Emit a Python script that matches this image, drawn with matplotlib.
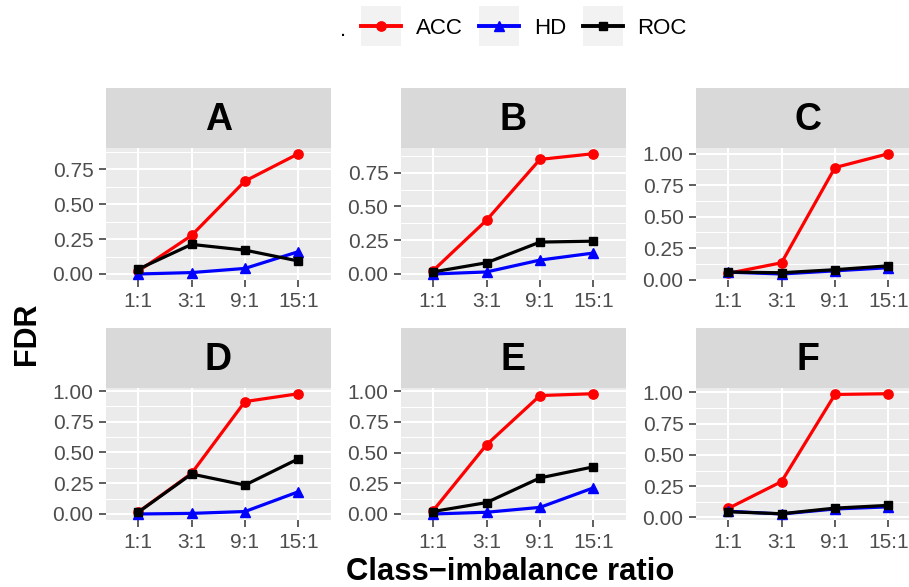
import matplotlib
matplotlib.use("Agg")
import matplotlib.pyplot as plt
from matplotlib.lines import Line2D
from matplotlib.patches import Rectangle
from matplotlib.legend_handler import HandlerLine2D
import numpy as np

plt.rcParams['font.family'] = ['Liberation Sans', 'DejaVu Sans']

ratios = ["1:1", "3:1", "9:1", "15:1"]
panels = ["A", "B", "C", "D", "E", "F"]
acc = {
    "A": [0.02, 0.276, 0.666, 0.862],
    "B": [0.025, 0.398, 0.848, 0.89],
    "C": [0.05, 0.134, 0.89, 1.00],
    "D": [0.015, 0.33, 0.914, 0.978],
    "E": [0.027, 0.564, 0.965, 0.98],
    "F": [0.072, 0.287, 0.984, 0.99],
}
hd = {
    "A": [0.0, 0.01, 0.04, 0.16],
    "B": [0.0, 0.015, 0.103, 0.155],
    "C": [0.06, 0.045, 0.07, 0.095],
    "D": [0.0, 0.005, 0.02, 0.181],
    "E": [0.0, 0.014, 0.054, 0.213],
    "F": [0.05, 0.028, 0.068, 0.085],
}
roc = {
    "A": [0.034, 0.212, 0.171, 0.093],
    "B": [0.015, 0.083, 0.236, 0.243],
    "C": [0.06, 0.055, 0.079, 0.11],
    "D": [0.013, 0.325, 0.235, 0.449],
    "E": [0.02, 0.093, 0.294, 0.384],
    "F": [0.046, 0.03, 0.075, 0.097],
}
series = [("ACC", acc, "#FF0000", "o", 6.7),
          ("HD", hd, "#0000FF", "^", 7.5),
          ("ROC", roc, "#000000", "s", 6.3)]

W, H = 909, 587
fig = plt.figure(figsize=(W / 100, H / 100), dpi=100)

def fx(px):
    return px / W

def fy(py):
    return 1 - py / H

col_left = [106, 401, 696]
pw = 224.5
strip_top = [88.3, 328.3]
strip_bot = [147.7, 387.7]
pan_bot = [280.0, 520.0]

for i, p in enumerate(panels):
    r, c = divmod(i, 3)
    ax = fig.add_axes([fx(col_left[c]), fy(pan_bot[r]), pw / W, (pan_bot[r] - strip_bot[r]) / H])
    ax.set_facecolor("#EBEBEB")
    for name, d, col, mk, ms in series:
        ax.plot(range(len(ratios)), d[p], color=col, lw=2.3, marker=mk, ms=ms, zorder=3,
                clip_on=False, solid_capstyle='butt')
    vals = np.concatenate([acc[p], hd[p], roc[p]])
    lo, hi = vals.min(), vals.max()
    ex = 0.05 * (hi - lo)
    ax.set_ylim(lo - ex, hi + ex)
    ax.set_xlim(-0.6, len(ratios) - 1 + 0.6)
    ax.set_xticks(range(len(ratios)))
    ax.set_xticklabels(ratios)
    yt = np.arange(0, hi + ex + 1e-9, 0.25)
    ax.set_yticks(yt)
    ax.set_yticklabels([f"{v:.2f}" for v in yt])
    ax.set_yticks(np.arange(0.125, hi + ex, 0.25), minor=True)
    ax.grid(True, which='major', color='white', lw=1.5)
    ax.grid(True, which='minor', axis='y', color='white', lw=0.75)
    ax.set_axisbelow(True)
    for s in ax.spines.values():
        s.set_visible(False)
    ax.tick_params(axis='both', which='major', length=5, width=1.1, color='#333333',
                   labelcolor='#4D4D4D', labelsize=15, pad=4)
    ax.tick_params(axis='y', which='minor', length=0)
    # strip
    sa = fig.add_axes([fx(col_left[c]), fy(strip_bot[r]), pw / W, (strip_bot[r] - strip_top[r]) / H])
    sa.set_facecolor("#D9D9D9")
    sa.set_xticks([])
    sa.set_yticks([])
    for s in sa.spines.values():
        s.set_visible(False)
    sa.text(0.5, 0.47, p, transform=sa.transAxes, ha='center', va='center',
            fontsize=27, fontweight='bold', color='black')

fig.text(fx(27), fy(334), "FDR", rotation=90, ha='center', va='center',
         fontsize=22, fontweight='bold')
fig.text(fx(510), fy(580), "Class\u2212imbalance ratio", ha='center', va='baseline',
         fontsize=22.3, fontweight='bold')


class KeyHandler(HandlerLine2D):
    def create_artists(self, legend, orig_handle, xdescent, ydescent, width, height, fontsize, trans):
        arts = super().create_artists(legend, orig_handle, xdescent, ydescent, width, height, fontsize, trans)
        cy = -ydescent + height / 2
        side = width
        rect = Rectangle((-xdescent, cy - side / 2), width, side, facecolor='#F2F2F2',
                         edgecolor='none', transform=trans, zorder=0)
        return [rect] + list(arts)


handles = [Line2D([], [], color=col, lw=2.8, marker=mk, ms=ms) for _, _, col, mk, ms in series]
labels = [s[0] for s in series]
leg = fig.legend(handles, labels, loc='center', bbox_to_anchor=(fx(524), fy(28)), ncol=3,
                 frameon=False, fontsize=16, handlelength=1.8, handletextpad=0.65,
                 columnspacing=0.75, handler_map={Line2D: KeyHandler(numpoints=1)})
fig.text(fx(343), fy(31), ".", ha='center', va='center', fontsize=16)

fig.savefig("out.png", dpi=100)
